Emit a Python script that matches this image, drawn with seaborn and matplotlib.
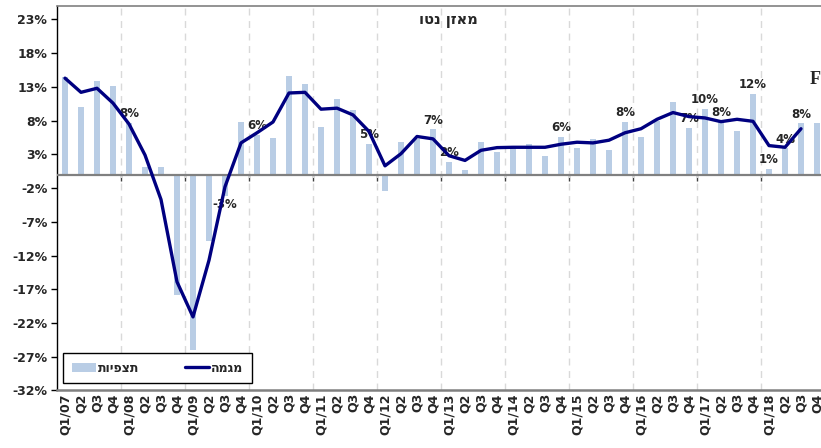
import numpy as np
import pandas as pd
import matplotlib
matplotlib.use("Agg")
import matplotlib.pyplot as plt
import seaborn as sns

# quarters Q1/07 .. Q4/18
years = ["07", "08", "09", "10", "11", "12", "13", "14", "15", "16", "17", "18"]
quarters = []
for yy in years:
    quarters += ["Q1/" + yy, "Q2", "Q3", "Q4"]

# observations (bars), net balance in %
observations = [14.4, 10.0, 13.9, 13.2,
                7.7, 1.2, 1.1, -17.9,
                -26.0, -9.8, -3.1, 7.8,
                5.9, 5.4, 14.6, 13.4,
                7.1, 11.2, 9.6, 4.6,
                -2.5, 4.9, 5.3, 6.7,
                1.9, 0.7, 4.9, 3.4,
                3.9, 4.6, 2.7, 5.6,
                4.0, 5.3, 3.6, 7.8,
                5.6, 8.0, 10.8, 6.9,
                9.7, 7.9, 6.5, 12.0,
                0.9, 3.9, 7.6, 7.6]

# trend (line)
trend = [14.3, 12.2, 12.8, 10.6,
         7.5, 2.9, -3.7, -15.9,
         -21.1, -12.7, -1.8, 4.7,
         6.2, 7.8, 12.1, 12.2,
         9.7, 9.85, 8.85, 6.4,
         1.3, 3.1, 5.65, 5.3,
         2.8, 2.1, 3.6, 4.0,
         4.05, 4.05, 4.05, 4.5,
         4.8, 4.7, 5.1, 6.2,
         6.8, 8.2, 9.2, 8.6,
         8.4, 7.85, 8.2, 7.9,
         4.3, 4.05, 6.8, np.nan]

# bars that carry a value label
labelled = ["Q1/08", "Q3/09", "Q1/10", "Q4/11", "Q4/12", "Q1/13", "Q4/14",
            "Q4/15", "Q4/16", "Q1/17", "Q2/17", "Q4/17", "Q1/18", "Q2/18", "Q3/18"]

title = "מאזן נטו"
obs_name = "תצפיות"
trend_name = "מגמה"


def rtl(s):
    # matplotlib has no bidi support, so feed Hebrew in visual order
    return s[::-1]


# unique ids so seaborn keeps every quarter as its own bar
ids = []
for yy in years:
    ids += [f"Q{q}/{yy}" for q in range(1, 5)]

df = pd.DataFrame({"quarter": quarters, "id": ids, "obs": observations,
                   "trend": trend, "pos": np.arange(len(quarters))})

sns.set_style("white")
plt.rcParams["font.family"] = ["DejaVu Sans"]

bar_color = "#B9CDE5"
line_color = "#000080"

fig = plt.figure(figsize=(8.21, 4.48), dpi=100)
ax = fig.add_axes([57 / 821, 1 - 390.4 / 448, 768 / 821, (390.4 - 6) / 448])

sns.barplot(data=df, x="id", y="obs", order=ids, color=bar_color, saturation=1,
            width=0.42, errorbar=None, linewidth=0, edgecolor="none", ax=ax,
            zorder=2)
sns.lineplot(data=df, x="pos", y="trend", color=line_color, linewidth=2.4,
             ax=ax, zorder=4)

ymin, ymax = -32, 25
ax.set_ylim(ymin, ymax)
ax.set_xlim(-0.5, len(quarters) - 0.5)
yt = np.arange(-32, 24, 5)
ax.set_yticks(yt)
ax.set_yticklabels([f"{v}%" for v in yt], fontsize=9, fontweight="bold")
ax.set_xticks(df["pos"])
ax.set_xticklabels(df["quarter"], rotation=90, fontsize=9, fontweight="bold")
ax.set_xlabel("")
ax.set_ylabel("")
ax.tick_params(axis="y", direction="out", length=4, width=1, color="black",
               left=True, pad=3)
ax.tick_params(axis="x", length=0, pad=2)

# dashed year separators
ax.set_xticks(df["pos"][3::4] + 0.5, minor=True)
ax.tick_params(axis="x", which="minor", length=0)
ax.grid(True, axis="x", which="minor", color="#D9D9D9", linestyle=(0, (5, 4)),
        linewidth=1)
ax.grid(False, axis="x", which="major")
ax.grid(False, axis="y")

ax.spines["right"].set_visible(False)
ax.spines["top"].set_color("#808080")
ax.spines["top"].set_linewidth(1.2)
ax.spines["left"].set_color("black")
ax.spines["left"].set_linewidth(1)
ax.spines["bottom"].set_color("#808080")
ax.spines["bottom"].set_linewidth(1.8)

# zero axis with year ticks pointing down
ax.axhline(0, color="#808080", linewidth=1.6, zorder=3)
zero_ax = ax.secondary_xaxis((0 - ymin) / (ymax - ymin))
zero_ax.set_xticks(df["pos"][3::4] + 0.5)
zero_ax.tick_params(axis="x", direction="in", length=4, width=1, color="#404040",
                    labelbottom=False, labeltop=False)
for side in ["bottom", "top"]:
    zero_ax.spines[side].set_visible(False)

# value labels
for _, r in df[df["id"].isin(labelled)].iterrows():
    v = r["obs"]
    txt = f"{round(v):.0f}%"
    up = v >= 0
    ax.annotate(txt, (r["pos"], v), xytext=(0, 2 if up else -2),
                textcoords="offset points", ha="center",
                va="bottom" if up else "top", fontsize=8.5, fontweight="bold",
                zorder=3)

bar_handle = plt.Rectangle((0, 0), 1, 1, facecolor=bar_color, edgecolor="none")
line_handle = plt.Line2D([], [], color=line_color, linewidth=2.4)
leg = ax.legend([bar_handle, line_handle], [rtl(obs_name), rtl(trend_name)],
                loc="lower left", ncol=2, mode="expand",
                bbox_to_anchor=(6 / 768, 7.1 / 384.4, 189 / 768, 35 / 384.4),
                prop={"weight": "bold", "size": 9}, frameon=True, fancybox=False,
                borderpad=0.7, handlelength=1.9, handletextpad=0.2,
                borderaxespad=0)
leg.get_frame().set_edgecolor("black")
leg.get_frame().set_linewidth(1)
leg.get_frame().set_facecolor("white")
leg.get_frame().set_alpha(1)
leg.set_zorder(6)

fig.text(448 / 821, 1 - 20 / 448, rtl(title), ha="center", va="center",
         fontsize=10.5, fontweight="bold")
fig.text(810 / 821, 1 - 80 / 448, "F", ha="left", va="center", fontsize=13,
         fontweight="bold", family="Liberation Serif")

fig.savefig("out.png", dpi=100)
